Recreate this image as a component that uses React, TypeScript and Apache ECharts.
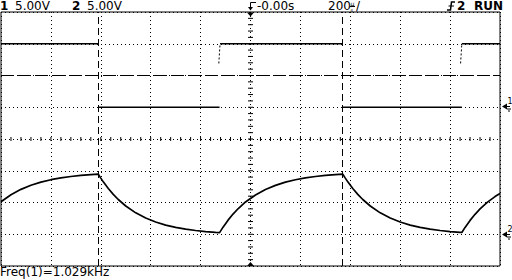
import React, { useEffect, useRef } from "react";
import * as echarts from "echarts";

// Time axis (µs), 200 µs/div, 10 divisions, trigger at 0
const TIME_MIN = -1000;
const TIME_MAX = 1000;
const TIME_DIV = 200;

// Channel 1: 5.00 V/div, ground one division above centre
const CH1_MIN = -25;
const CH1_MAX = 15;
// Channel 2: 5.00 V/div, ground three divisions below centre
const CH2_MIN = -5;
const CH2_MAX = 35;
const VOLT_DIV = 5;

// Channel 1 square wave (V), nulls break the trace where edges are not drawn
const CH1_T = [-1000, -610, -610, -610, -124, -124, -122, 369, 369, 369, 847, 847, 847, 1000];
const CH1_V = [10, 10, null, 0, 0, null, 10, 10, null, 0, 0, null, 10, 10];

// Faint captured rising-edge fragments of channel 1
const CH1_EDGE_T = [-127, -122, null, 842, 847];
const CH1_EDGE_V = [6.9, 10, null, 6.9, 10];

// Channel 2 RC waveform (V)
const CH2_T = [
  -1000, -960, -920, -880, -840, -800, -760, -720, -680, -640,
  -610, -600, -590, -570, -550, -530, -500, -460, -420, -380,
  -340, -300, -260, -220, -180, -140, -124, -110, -90, -70,
  -50, -20, 20, 60, 100, 140, 180, 220, 260, 300,
  340, 370, 380, 390, 410, 430, 450, 480, 520, 560,
  600, 640, 680, 720, 760, 800, 840, 847, 860, 880,
  900, 920, 950, 980, 1000,
];
const CH2_V = [
  5.12, 6.23, 7.07, 7.72, 8.21, 8.59, 8.88, 9.09, 9.26, 9.39,
  9.46, 8.84, 8.25, 7.2, 6.28, 5.47, 4.45, 3.37, 2.55, 1.92,
  1.44, 1.08, 0.8, 0.59, 0.42, 0.3, 0.26, 1.12, 2.22, 3.18,
  4.01, 5.08, 6.19, 7.05, 7.7, 8.2, 8.58, 8.87, 9.09, 9.26,
  9.39, 9.46, 8.84, 8.25, 7.2, 6.28, 5.47, 4.45, 3.37, 2.55,
  1.92, 1.44, 1.08, 0.8, 0.59, 0.42, 0.3, 0.28, 1.08, 2.18,
  3.14, 3.99, 5.05, 5.93, 6.41,
];

// Time cursors (µs) and voltage cursor (channel 1 volts)
const CURSOR_T = [-610, 369];
const CURSOR_V = [5];

// Status texts
const CH1_LABEL = "1";
const CH1_SCALE = "5.00V";
const CH2_LABEL = "2";
const CH2_SCALE = "5.00V";
const DELAY_TEXT = "-0.00s";
const TIMEBASE_NUM = "200";
const TIMEBASE_UNIT_TOP = "µ";
const TIMEBASE_UNIT_BOTTOM = "s";
const TRIG_SRC = "2";
const RUN_TEXT = "RUN";
const FREQ_TEXT = "Freq(1)=1.029kHz";

const FONT = '"DejaVu Sans"';

export default function App() {
  const ref = useRef<HTMLDivElement>(null);

  useEffect(() => {
    if (!ref.current) return;
    const chart = echarts.init(ref.current, undefined, { renderer: "svg" });

    const ch1 = CH1_T.map((t, i) => (CH1_V[i] === null || t === null ? ["-", "-"] : [t, CH1_V[i]]));
    const ch1Edge = CH1_EDGE_T.map((t, i) => (CH1_EDGE_V[i] === null || t === null ? ["-", "-"] : [t, CH1_EDGE_V[i]]));
    const ch2 = CH2_T.map((t, i) => [t, CH2_V[i]]);

    // graticule minor ticks along centre lines
    const centreV = (CH1_MIN + CH1_MAX) / 2;
    const ticks: number[][] = [];
    for (let t = TIME_MIN + TIME_DIV / 5; t < TIME_MAX; t += TIME_DIV / 5) ticks.push([t, centreV, 0]);
    for (let v = CH1_MIN + 1; v < CH1_MAX; v += 1) ticks.push([0, v, 1]);

    const tri = (pts: number[][]) => ({ type: "polygon", shape: { points: pts }, style: { fill: "#000" }, silent: true });
    const ln = (x1: number, y1: number, x2: number, y2: number) => ({
      type: "line", shape: { x1, y1, x2, y2 }, style: { stroke: "#000", lineWidth: 1 }, silent: true,
    });
    const txt = (x: number, y: number, text: string, font: string) => ({
      type: "text", x, y, silent: true,
      style: { text, font, fill: "#000", verticalAlign: "top", textVerticalAlign: "top" },
    });

    const marker = (y: number, label: string) => [
      tri([[502, y], [507, y - 3], [507, y + 3]]),
      ln(507, y, 510, y),
      txt(507.5, y - 9, label, `8px ${FONT}`),
      ln(507, y + 2.5, 511, y + 2.5),
      ln(508, y + 4.5, 510, y + 4.5),
    ];

    chart.setOption({
      animation: false,
      backgroundColor: "#fff",
      grid: {
        left: 1, top: 12, width: 499, height: 254,
        show: true, borderColor: "#000", borderWidth: 1, backgroundColor: "#fff",
      },
      xAxis: {
        type: "value", min: TIME_MIN, max: TIME_MAX, interval: TIME_DIV,
        axisLine: { show: false }, axisTick: { show: false }, axisLabel: { show: false },
        splitLine: { show: true, lineStyle: { color: "#000", width: 1, type: [1, 3] } },
      },
      yAxis: [
        {
          type: "value", min: CH1_MIN, max: CH1_MAX, interval: VOLT_DIV,
          axisLine: { show: false }, axisTick: { show: false }, axisLabel: { show: false },
          splitLine: { show: true, lineStyle: { color: "#000", width: 1, type: [1, 3] } },
        },
        {
          type: "value", min: CH2_MIN, max: CH2_MAX, interval: VOLT_DIV,
          axisLine: { show: false }, axisTick: { show: false }, axisLabel: { show: false },
          splitLine: { show: false },
        },
      ],
      series: [
        {
          type: "custom", name: "graticule", silent: true, yAxisIndex: 0,
          data: ticks, encode: { x: 0, y: 1 },
          renderItem: (params: any, api: any) => {
            const p = api.coord([api.value(0), api.value(1)]);
            if (api.value(2) === 0) {
              return { type: "line", shape: { x1: p[0], y1: p[1] - 2, x2: p[0], y2: p[1] + 2 }, style: { stroke: "#000", lineWidth: 1 } };
            }
            return { type: "line", shape: { x1: p[0] - 2.5, y1: p[1], x2: p[0] + 2.5, y2: p[1] }, style: { stroke: "#000", lineWidth: 1 } };
          },
        },
        {
          type: "line", name: "CH1", yAxisIndex: 0, data: ch1, symbol: "none",
          connectNulls: false,
          lineStyle: { color: "#000", width: 1.7 },
          markLine: {
            silent: true, symbol: ["none", "none"], label: { show: false },
            data: [
              ...CURSOR_T.map((t) => ({ xAxis: t, lineStyle: { color: "#000", width: 1, type: [7, 4] } })),
              ...CURSOR_V.map((v) => ({ yAxis: v, lineStyle: { color: "#000", width: 1, type: [13, 4] } })),
            ],
          },
        },
        {
          type: "line", name: "CH1 edge", yAxisIndex: 0, data: ch1Edge, symbol: "none",
          connectNulls: false,
          lineStyle: { color: "#000", width: 1, type: [2, 2] },
        },
        {
          type: "line", name: "CH2", yAxisIndex: 1, data: ch2, symbol: "none",
          lineStyle: { color: "#000", width: 1.7 },
        },
      ],
      graphic: [
        txt(0, 0, CH1_LABEL, `bold 12px ${FONT}`),
        txt(15, 0, CH1_SCALE, `12px ${FONT}`),
        txt(72, 0, CH2_LABEL, `bold 12px ${FONT}`),
        txt(87, 0, CH2_SCALE, `12px ${FONT}`),
        // trigger delay glyph
        { type: "polyline", shape: { points: [[256, 2.5], [250.5, 2.5], [250.5, 8]] }, style: { stroke: "#000", lineWidth: 1, fill: null }, silent: true },
        tri([[248, 7], [253, 7], [250.5, 10.5]]),
        txt(257, 0, DELAY_TEXT, `12px ${FONT}`),
        txt(328, 0, TIMEBASE_NUM, `12px ${FONT}`),
        txt(350.5, 0, TIMEBASE_UNIT_TOP, `6px ${FONT}`),
        ln(350, 6.5, 355, 6.5),
        txt(350.5, 7, TIMEBASE_UNIT_BOTTOM, `5px ${FONT}`),
        txt(356, 0, "/", `12px ${FONT}`),
        // rising edge trigger glyph
        { type: "polyline", shape: { points: [[447, 10], [450.5, 10], [451.5, 2], [455, 2]] }, style: { stroke: "#000", lineWidth: 1.5, fill: null }, silent: true },
        ln(448.5, 6, 454, 6),
        txt(457, 0, TRIG_SRC, `bold 12px ${FONT}`),
        txt(474, 0, RUN_TEXT, `bold 12px ${FONT}`),
        // trigger position markers
        tri([[247, 12.5], [254, 12.5], [250.5, 16.5]]),
        tri([[247, 266], [254, 266], [250.5, 262]]),
        // ground markers
        ...marker(106.5, "1"),
        ...marker(234.5, "2"),
        txt(0, 266, FREQ_TEXT, `12px ${FONT}`),
      ],
    });

    return () => chart.dispose();
  }, []);

  return <div ref={ref} style={{ position: "fixed", left: 0, top: 0, width: 512, height: 280 }} />;
}
